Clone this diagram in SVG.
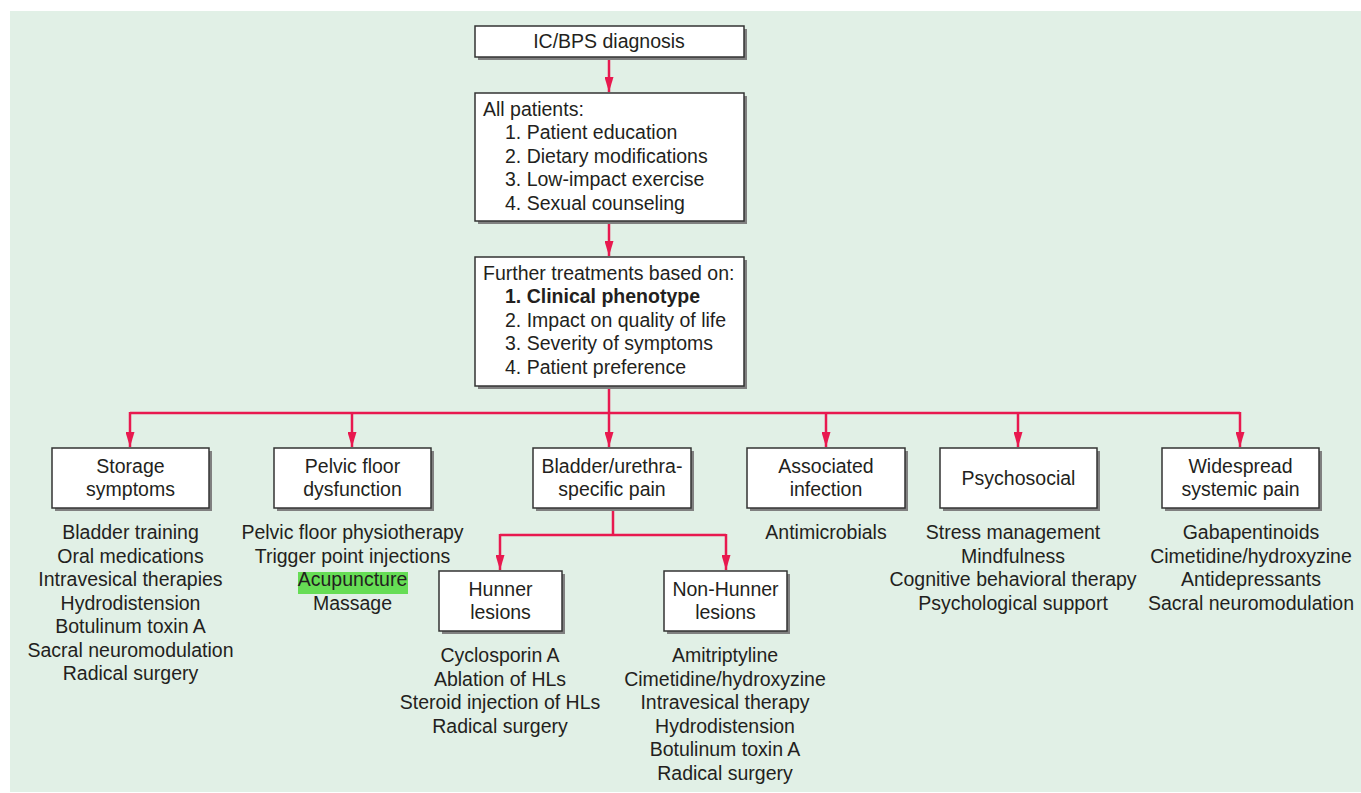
<svg xmlns="http://www.w3.org/2000/svg" width="1361" height="793" viewBox="0 0 1361 793">
<defs>
<style>
.bg{fill:#e1f0e6}
.sh{fill:#808080}
.box{fill:#ffffff;stroke:#333333;stroke-width:1.5}
.t{font-family:"Liberation Sans",Arial,Helvetica,sans-serif;font-size:19.5px;fill:#231f20}
.c{text-anchor:middle}
.b{font-weight:bold}
.con{fill:none;stroke:#e8194f;stroke-width:2.5}
</style>
<marker id="ah" markerUnits="userSpaceOnUse" markerWidth="15" markerHeight="9" refX="15" refY="4.5" orient="auto">
<path d="M0,0 L15,4.5 L0,9 z" fill="#e8194f"/>
</marker>
</defs>
<rect x="0" y="0" width="1361" height="793" fill="#ffffff"/>
<rect class="bg" x="10" y="11" width="1351" height="781"/>

<g id="connectors">
<line class="con" x1="609" y1="58" x2="609" y2="92" marker-end="url(#ah)"/>
<line class="con" x1="609" y1="222" x2="609" y2="256" marker-end="url(#ah)"/>
<line class="con" x1="609" y1="387" x2="609" y2="413"/>
<line class="con" x1="130" y1="413" x2="1240" y2="413"/>
<line class="con" x1="130" y1="412" x2="130" y2="447" marker-end="url(#ah)"/>
<line class="con" x1="352" y1="412" x2="352" y2="447" marker-end="url(#ah)"/>
<line class="con" x1="609" y1="412" x2="609" y2="447" marker-end="url(#ah)"/>
<line class="con" x1="826" y1="412" x2="826" y2="447" marker-end="url(#ah)"/>
<line class="con" x1="1018" y1="412" x2="1018" y2="447" marker-end="url(#ah)"/>
<line class="con" x1="1240" y1="412" x2="1240" y2="447" marker-end="url(#ah)"/>
<line class="con" x1="613" y1="509" x2="613" y2="535"/>
<line class="con" x1="500" y1="535" x2="726" y2="535"/>
<line class="con" x1="500" y1="534" x2="500" y2="570" marker-end="url(#ah)"/>
<line class="con" x1="726" y1="534" x2="726" y2="570" marker-end="url(#ah)"/>
</g>

<g id="n-diagnosis">
<rect class="sh" x="478" y="29" width="269" height="31"/>
<rect class="box" x="475" y="26" width="269" height="31"/>
<text class="t c" x="609" y="47.5">IC/BPS diagnosis</text>
</g>

<g id="n-allpatients">
<rect class="sh" x="478" y="96" width="269" height="128"/>
<rect class="box" x="475" y="93" width="269" height="128"/>
<text class="t" x="483" y="115.5">All patients:</text>
<text class="t" x="505" y="139">1. Patient education</text>
<text class="t" x="505" y="162.5">2. Dietary modifications</text>
<text class="t" x="505" y="186">3. Low-impact exercise</text>
<text class="t" x="505" y="209.5">4. Sexual counseling</text>
</g>

<g id="n-further">
<rect class="sh" x="478" y="260" width="269" height="129"/>
<rect class="box" x="475" y="257" width="269" height="129"/>
<text class="t" x="483" y="279.5">Further treatments based on:</text>
<text class="t b" x="505" y="303">1. Clinical phenotype</text>
<text class="t" x="505" y="326.5">2. Impact on quality of life</text>
<text class="t" x="505" y="350">3. Severity of symptoms</text>
<text class="t" x="505" y="373.5">4. Patient preference</text>
</g>

<g id="n-storage">
<rect class="sh" x="55" y="451" width="157" height="60"/>
<rect class="box" x="52" y="448" width="157" height="60"/>
<text class="t c" x="130.5" y="472.5">Storage</text>
<text class="t c" x="130.5" y="496">symptoms</text>
<text class="t c" x="130.5" y="539">Bladder training</text>
<text class="t c" x="130.5" y="562.5">Oral medications</text>
<text class="t c" x="130.5" y="586">Intravesical therapies</text>
<text class="t c" x="130.5" y="609.5">Hydrodistension</text>
<text class="t c" x="130.5" y="633">Botulinum toxin A</text>
<text class="t c" x="130.5" y="656.5">Sacral neuromodulation</text>
<text class="t c" x="130.5" y="680">Radical surgery</text>
</g>

<g id="n-pelvic">
<rect class="sh" x="277" y="451" width="157" height="60"/>
<rect class="box" x="274" y="448" width="157" height="60"/>
<text class="t c" x="352.5" y="472.5">Pelvic floor</text>
<text class="t c" x="352.5" y="496">dysfunction</text>
<rect x="298" y="572" width="110" height="22" fill="#66dd55"/>
<text class="t c" x="352.5" y="539">Pelvic floor physiotherapy</text>
<text class="t c" x="352.5" y="562.5">Trigger point injections</text>
<text class="t c" x="352.5" y="586">Acupuncture</text>
<text class="t c" x="352.5" y="609.5">Massage</text>
</g>

<g id="n-bladder">
<rect class="sh" x="536" y="451" width="158" height="60"/>
<rect class="box" x="533" y="448" width="158" height="60"/>
<text class="t c" x="612" y="472.5">Bladder/urethra-</text>
<text class="t c" x="612" y="496">specific pain</text>
</g>

<g id="n-hunner">
<rect class="sh" x="442" y="574" width="123" height="60"/>
<rect class="box" x="439" y="571" width="123" height="60"/>
<text class="t c" x="500.5" y="595.5">Hunner</text>
<text class="t c" x="500.5" y="619">lesions</text>
<text class="t c" x="500" y="662">Cyclosporin A</text>
<text class="t c" x="500" y="685.5">Ablation of HLs</text>
<text class="t c" x="500" y="709">Steroid injection of HLs</text>
<text class="t c" x="500" y="732.5">Radical surgery</text>
</g>

<g id="n-nonhunner">
<rect class="sh" x="667" y="574" width="123" height="60"/>
<rect class="box" x="664" y="571" width="123" height="60"/>
<text class="t c" x="725.5" y="595.5">Non-Hunner</text>
<text class="t c" x="725.5" y="619">lesions</text>
<text class="t c" x="725" y="662">Amitriptyline</text>
<text class="t c" x="725" y="685.5">Cimetidine/hydroxyzine</text>
<text class="t c" x="725" y="709">Intravesical therapy</text>
<text class="t c" x="725" y="732.5">Hydrodistension</text>
<text class="t c" x="725" y="756">Botulinum toxin A</text>
<text class="t c" x="725" y="779.5">Radical surgery</text>
</g>

<g id="n-infection">
<rect class="sh" x="750" y="451" width="158" height="60"/>
<rect class="box" x="747" y="448" width="158" height="60"/>
<text class="t c" x="826" y="472.5">Associated</text>
<text class="t c" x="826" y="496">infection</text>
<text class="t c" x="826" y="539">Antimicrobials</text>
</g>

<g id="n-psychosocial">
<rect class="sh" x="943" y="451" width="157" height="60"/>
<rect class="box" x="940" y="448" width="157" height="60"/>
<text class="t c" x="1018.5" y="485">Psychosocial</text>
<text class="t c" x="1013" y="539">Stress management</text>
<text class="t c" x="1013" y="562.5">Mindfulness</text>
<text class="t c" x="1013" y="586">Cognitive behavioral therapy</text>
<text class="t c" x="1013" y="609.5">Psychological support</text>
</g>

<g id="n-widespread">
<rect class="sh" x="1165" y="451" width="157" height="60"/>
<rect class="box" x="1162" y="448" width="157" height="60"/>
<text class="t c" x="1240.5" y="472.5">Widespread</text>
<text class="t c" x="1240.5" y="496">systemic pain</text>
<text class="t c" x="1251" y="539">Gabapentinoids</text>
<text class="t c" x="1251" y="562.5">Cimetidine/hydroxyzine</text>
<text class="t c" x="1251" y="586">Antidepressants</text>
<text class="t c" x="1251" y="609.5">Sacral neuromodulation</text>
</g>
</svg>
